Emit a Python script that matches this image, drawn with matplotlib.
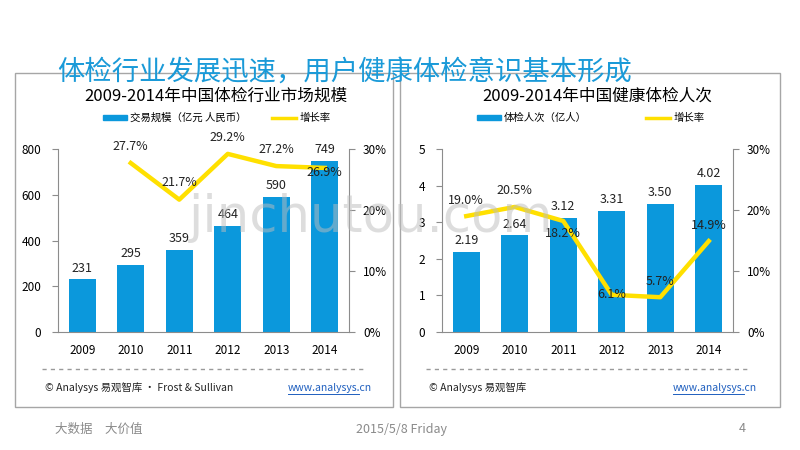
import numpy as np
import matplotlib
matplotlib.use('Agg')
import matplotlib.pyplot as plt
from matplotlib.patches import Rectangle

plt.rcParams['font.family'] = ['Noto Sans CJK SC', 'DejaVu Sans']
plt.rcParams['axes.unicode_minus'] = False

# 数据
years = ['2009', '2010', '2011', '2012', '2013', '2014']

market_size = [231, 295, 359, 464, 590, 749]            # 交易规模（亿元 人民币）
market_growth = [np.nan, 27.7, 21.7, 29.2, 27.2, 26.9]   # 增长率 %

checkups = [2.19, 2.64, 3.12, 3.31, 3.50, 4.02]          # 体检人次（亿人）
checkup_growth = [19.0, 20.5, 18.2, 6.1, 5.7, 14.9]      # 增长率 %

BLUE = '#0b98dc'
YELLOW = '#ffe000'
AXIS_GRAY = '#8c8c8c'
TITLE_BLUE = '#1a9ad8'

W, H = 800, 450
fig = plt.figure(figsize=(8, 4.5), dpi=100)


def fx(px):
    return px / W


def fy(py):
    return 1 - py / H


def draw_chart(x0, title, title_cx, bar_vals, bar_name, ymax, yticks, bar_fmt,
               growth, growth_offsets, legend_x, source, url_x, dash_x):
    # 坐标轴区域（像素换算）
    ax = fig.add_axes([fx(x0), fy(332), fx(291), (332 - 149) / H])
    x = np.arange(len(years))
    ax.bar(x, bar_vals, width=0.56, color=BLUE, zorder=2)
    ax.set_xlim(-0.5, len(years) - 0.5)
    ax.set_ylim(0, ymax)
    ax.set_yticks(yticks)
    ax.set_xticks(x)
    ax.set_xticklabels(years)
    ax.tick_params(axis='x', length=0, pad=9, labelsize=8.5)
    ax.tick_params(axis='y', direction='out', length=4, color=AXIS_GRAY,
                   labelsize=8.5, pad=8)
    for s in ['top', 'right']:
        ax.spines[s].set_visible(False)
    for s in ['left', 'bottom']:
        ax.spines[s].set_color(AXIS_GRAY)
    for xi, v in zip(x, bar_vals):
        ax.annotate(bar_fmt.format(v), (xi, v), xytext=(0, 8),
                    textcoords='offset points', ha='center', va='center',
                    fontsize=9, color='#222222')

    ax2 = ax.twinx()
    ax2.plot(x, growth, color=YELLOW, lw=3.2, zorder=3)
    ax2.set_ylim(0, 30)
    ax2.set_yticks([0, 10, 20, 30])
    ax2.set_yticklabels(['0%', '10%', '20%', '30%'])
    ax2.tick_params(axis='y', direction='out', length=4, color=AXIS_GRAY,
                    labelsize=8.5, pad=6)
    for s in ['top', 'left', 'bottom']:
        ax2.spines[s].set_visible(False)
    ax2.spines['right'].set_color(AXIS_GRAY)
    for xi, g, off in zip(x, growth, growth_offsets):
        if np.isnan(g):
            continue
        ax2.annotate(f'{g:.1f}%', (xi, g), xytext=(0, off),
                     textcoords='offset points', ha='center', va='center',
                     fontsize=9, color='#222222')

    # 标题与图例
    fig.text(fx(title_cx), fy(96), title, ha='center', va='center', fontsize=12)
    lx = legend_x
    fig.patches.append(Rectangle((fx(lx), fy(120)), fx(24), 5 / H,
                                 transform=fig.transFigure, color=BLUE))
    fig.text(fx(lx + 27), fy(118), bar_name, ha='left', va='center', fontsize=7.5)
    lx2 = lx + 169
    fig.lines.append(plt.Line2D([fx(lx2), fx(lx2 + 24)], [fy(118), fy(118)],
                                transform=fig.transFigure, color=YELLOW, lw=2.5))
    fig.text(fx(lx2 + 28), fy(118), '增长率', ha='left', va='center', fontsize=7.5)

    # 分隔虚线与来源
    fig.lines.append(plt.Line2D([fx(dash_x[0]), fx(dash_x[1])], [fy(369), fy(369)],
                                transform=fig.transFigure, color='#9a9a9a',
                                lw=1, ls=(0, (3, 3))))
    fig.text(fx(dash_x[0] + 3), fy(388), source, ha='left', va='center', fontsize=7.5,
             color='#222222')
    fig.text(fx(url_x), fy(388), 'www.analysys.cn', ha='left', va='center',
             fontsize=7.5, color='#1f5fbf')
    fig.lines.append(plt.Line2D([fx(url_x), fx(url_x + 71)], [fy(394), fy(394)],
                                transform=fig.transFigure, color='#1f5fbf', lw=0.7))


# 外框
for bx0, bx1 in [(15, 393), (400, 780)]:
    fig.patches.append(Rectangle((fx(bx0), fy(407)), fx(bx1 - bx0), (407 - 73) / H,
                                 transform=fig.transFigure, fill=False,
                                 edgecolor='#a6a6a6', lw=1))

draw_chart(58, '2009-2014年中国体检行业市场规模', 216, market_size, '交易规模（亿元 人民币）',
           800, [0, 200, 400, 600, 800], '{:d}',
           market_growth, [0, 12, 12, 12, 12, -3], 103,
           '© Analysys 易观智库 · Frost & Sullivan', 288, (42, 366))

draw_chart(442, '2009-2014年中国健康体检人次', 597, checkups, '体检人次（亿人）',
           5, [0, 1, 2, 3, 4, 5], '{:.2f}',
           checkup_growth, [11, 12, -9, 0, 11, 11], 477,
           '© Analysys 易观智库', 673, (426, 750))

# 大标题
fig.text(fx(57), fy(72), '体检行业发展迅速，用户健康体检意识基本形成', ha='left',
         va='center', fontsize=19.7, color=TITLE_BLUE)

# 水印
fig.text(fx(371), fy(218), 'jinchutou.com', ha='center', va='center', fontsize=37,
         color='#bdbdbd', alpha=0.5, family='DejaVu Sans')

# 页脚
fig.text(fx(55), fy(429), '大数据　大价值', ha='left', va='center', fontsize=9,
         color='#8a8a8a')
fig.text(fx(402), fy(429), '2015/5/8 Friday', ha='center', va='center', fontsize=9,
         color='#8a8a8a')
fig.text(fx(742), fy(429), '4', ha='center', va='center', fontsize=9, color='#8a8a8a')

fig.savefig('out.png', dpi=100)
